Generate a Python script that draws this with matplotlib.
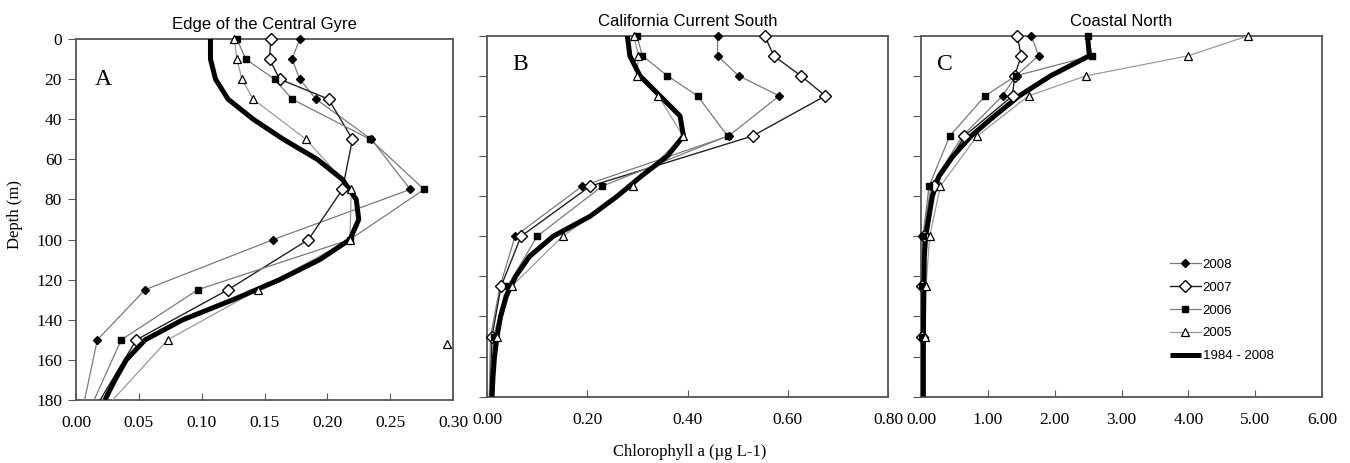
import numpy as np
import matplotlib
matplotlib.use("Agg")
import matplotlib.pyplot as plt
from matplotlib.lines import Line2D

# standard sampling depths (m) for the yearly profiles
depths = [0, 10, 20, 30, 50, 75, 100, 125, 150, 200]
# depths of the 1984-2008 mean profile
mean_depths = [0, 10, 20, 30, 40, 50, 60, 70, 80, 90, 100, 110, 120, 130, 140, 150, 160, 170, 180]

# Panel A: Edge of the Central Gyre
a_2008 = [0.178, 0.172, 0.178, 0.191, 0.235, 0.266, 0.157, 0.055, 0.017, 0.000]
a_2007 = [0.155, 0.154, 0.162, 0.201, 0.220, 0.212, 0.185, 0.121, 0.048, 0.000]
a_2006 = [0.128, 0.135, 0.158, 0.172, 0.234, 0.277, 0.218, 0.097, 0.036, 0.000]
a_2005 = [0.126, 0.128, 0.132, 0.141, 0.183, 0.219, 0.218, 0.145, 0.073, 0.000]
a_mean = [0.107, 0.107, 0.111, 0.121, 0.141, 0.165, 0.192, 0.212, 0.223, 0.225,
          0.218, 0.194, 0.162, 0.125, 0.085, 0.055, 0.040, 0.031, 0.023]
a_stray_x = [0.295]
a_stray_depth = [152]

# Panel B: California Current South
b_2008 = [0.460, 0.460, 0.502, 0.583, 0.482, 0.190, 0.056, 0.026, 0.007, 0.003]
b_2007 = [0.554, 0.572, 0.626, 0.675, 0.530, 0.206, 0.068, 0.028, 0.010, 0.004]
b_2006 = [0.299, 0.310, 0.360, 0.420, 0.480, 0.230, 0.100, 0.041, 0.013, 0.005]
b_2005 = [0.293, 0.302, 0.299, 0.342, 0.391, 0.291, 0.151, 0.049, 0.019, 0.006]
b_mean = [0.280, 0.285, 0.305, 0.345, 0.385, 0.392, 0.360, 0.308, 0.260, 0.206,
          0.132, 0.085, 0.057, 0.038, 0.027, 0.020, 0.015, 0.012, 0.010]

# Panel C: Coastal North
c_2008 = [1.65, 1.76, 1.42, 1.22, 0.62, 0.15, 0.03, 0.01, 0.01, 0.01]
c_2007 = [1.44, 1.50, 1.40, 1.37, 0.65, 0.20, 0.05, 0.02, 0.02, 0.01]
c_2006 = [2.50, 2.56, 1.42, 0.96, 0.43, 0.12, 0.03, 0.01, 0.01, 0.01]
c_2005 = [4.90, 4.00, 2.47, 1.61, 0.84, 0.29, 0.13, 0.075, 0.06, 0.03]
c_mean = [2.49, 2.52, 1.94, 1.47, 1.10, 0.75, 0.48, 0.27, 0.17, 0.12,
          0.07, 0.05, 0.045, 0.04, 0.038, 0.036, 0.035, 0.035, 0.035]

titles = ["Edge of the Central Gyre", "California Current South", "Coastal North"]
letters = ["A", "B", "C"]
xlims = [0.30, 0.80, 6.00]
xsteps = [0.05, 0.20, 1.00]
years = ["2008", "2007", "2006", "2005"]
mean_label = "1984 - 2008"

SERIF = "Liberation Serif"
SANS = "Liberation Sans"
SPINE = "#555555"

# line style and marker style for each year
line_styles = {
    "2008": dict(color="#7a7a7a", lw=0.9),
    "2007": dict(color="#222222", lw=1.0),
    "2006": dict(color="#7a7a7a", lw=0.9),
    "2005": dict(color="#9a9a9a", lw=0.9),
}
marker_styles = {
    "2008": dict(marker="D", ms=4.5, mfc="black", mec="black"),
    "2007": dict(marker="D", ms=6, mfc="white", mec="black", mew=1.0),
    "2006": dict(marker="s", ms=4.5, mfc="black", mec="black"),
    "2005": dict(marker="^", ms=5.5, mfc="white", mec="black", mew=0.9),
}

fig = plt.figure(figsize=(13.5, 4.63), dpi=100)

# axes rectangles in figure fractions (panel A sits a little lower)
rects = [
    [76 / 1350, 1 - 400 / 463, 377 / 1350, 361 / 463],
    [487 / 1350, 1 - 396.7 / 463, 401 / 1350, 361 / 463],
    [921 / 1350, 1 - 396.7 / 463, 401 / 1350, 361 / 463],
]
letter_pos = [(0.050, 0.873), (0.064, 0.905), (0.040, 0.904)]

panels = [
    (a_2008, a_2007, a_2006, a_2005, a_mean),
    (b_2008, b_2007, b_2006, b_2005, b_mean),
    (c_2008, c_2007, c_2006, c_2005, c_mean),
]

axes = []
for i, (rect, series) in enumerate(zip(rects, panels)):
    ax = fig.add_axes(rect)
    axes.append(ax)
    for yr, vals in zip(years, series[:4]):
        # line is clipped to the box, markers above 180 m stay whole at the edges
        ax.plot(vals, depths, zorder=3, **line_styles[yr])
        shown = [d <= 180 for d in depths]
        ax.plot([v for v, s in zip(vals, shown) if s], [d for d in depths if d <= 180],
                linestyle="none", zorder=5, clip_on=False, **marker_styles[yr])
    ax.plot(series[4], mean_depths, color="black", lw=3.6, solid_capstyle="butt", zorder=4)

    ax.set_xlim(0, xlims[i])
    ax.set_ylim(180, 0)
    ax.set_xticks(np.arange(0, xlims[i] + 1e-9, xsteps[i]))
    ax.set_xticklabels([f"{v:.2f}" for v in ax.get_xticks()], fontfamily=SERIF, fontsize=12.5)
    ax.set_yticks(np.arange(0, 181, 20))
    ax.tick_params(axis="x", direction="in", length=5, color=SPINE, pad=11)
    ax.tick_params(axis="y", direction="out", length=6, color=SPINE, pad=4)
    if i == 0:
        ax.set_yticklabels([str(v) for v in range(0, 181, 20)], fontfamily=SERIF, fontsize=12.5)
    else:
        ax.set_yticklabels([])
    for sp in ax.spines.values():
        sp.set_color(SPINE)
        sp.set_linewidth(1.3)

    ax.set_title(titles[i], fontfamily=SANS, fontsize=12, pad=7)
    ax.text(letter_pos[i][0], letter_pos[i][1], letters[i], transform=ax.transAxes,
            fontfamily=SERIF, fontsize=17, va="baseline", ha="left")

# stray marker in panel A
axes[0].plot(a_stray_x, a_stray_depth, linestyle="none", clip_on=False, **marker_styles["2005"])

handles = [Line2D([], [], **line_styles[yr], **marker_styles[yr]) for yr in years]
handles.append(Line2D([], [], color="black", lw=3.6, solid_capstyle="butt"))
axes[2].legend(handles, years + [mean_label], loc="upper left", bbox_to_anchor=(0.62, 0.382),
               frameon=False, prop={"family": SANS, "size": 9.5}, handlelength=2.4,
               handletextpad=0.1, labelspacing=0.8, borderpad=0, borderaxespad=0)

fig.text(690 / 1350, 1 - 452 / 463, "Chlorophyll a (\u00b5g L-1)", ha="center", va="center",
         fontfamily=SERIF, fontsize=12)
fig.text(15 / 1350, 1 - 215 / 463, "Depth (m)", ha="center", va="center", rotation=90,
         fontfamily=SERIF, fontsize=12)

fig.savefig("out.png", dpi=100)
